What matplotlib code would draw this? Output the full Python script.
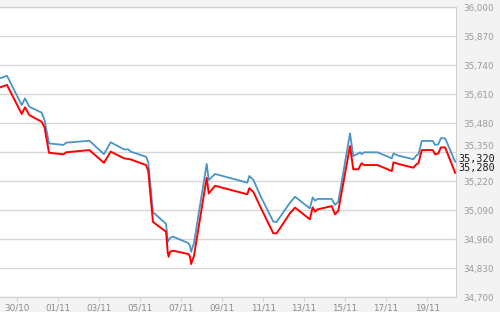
import matplotlib
matplotlib.use("Agg")
import matplotlib.pyplot as plt
import matplotlib.ticker as mticker

# days counted from 30/10 (midnight)
days = [-0.83, -0.49, 0.23, 0.39, 0.60, 1.20, 1.34, 1.56, 2.27, 2.39,
        3.53, 4.24, 4.57, 5.22, 5.43, 5.55, 6.29, 6.40, 6.63, 7.27,
        7.35, 7.40, 7.46, 7.61, 8.36, 8.44, 8.49, 8.63, 9.25, 9.35,
        9.66, 11.23, 11.33, 11.53, 11.85, 12.50, 12.66, 13.32, 13.56, 14.28,
        14.42, 14.54, 14.65, 15.35, 15.51, 15.67, 16.24, 16.40, 16.65, 16.73,
        16.81, 16.93, 17.58, 18.28, 18.36, 18.60, 19.33, 19.50, 19.58, 19.74,
        20.28, 20.39, 20.55, 20.67, 20.88, 21.37]

blue = [35682, 35693, 35562, 35592, 35554, 35528, 35495, 35390, 35383, 35393,
        35402, 35342, 35395, 35363, 35363, 35353, 35330, 35306, 35082, 35029,
        34948, 34957, 34966, 34972, 34943, 34930, 34904, 34943, 35298, 35226,
        35253, 35214, 35244, 35226, 35159, 35039, 35038, 35125, 35151, 35099,
        35148, 35133, 35141, 35141, 35114, 35129, 35435, 35333, 35345, 35350,
        35342, 35350, 35350, 35323, 35345, 35335, 35319, 35338, 35341, 35401,
        35401, 35383, 35386, 35413, 35413, 35308]

red = [35641, 35652, 35522, 35552, 35517, 35487, 35463, 35348, 35341, 35350,
       35360, 35303, 35353, 35323, 35320, 35318, 35293, 35266, 35038, 34994,
       34900, 34882, 34904, 34909, 34894, 34882, 34849, 34885, 35236, 35166,
       35200, 35162, 35189, 35172, 35109, 34987, 34987, 35078, 35102, 35050,
       35103, 35084, 35094, 35109, 35072, 35088, 35378, 35274, 35274, 35289,
       35301, 35293, 35293, 35266, 35305, 35298, 35281, 35298, 35301, 35360,
       35360, 35341, 35345, 35372, 35372, 35258]

tick_days = [0, 2, 4, 6, 8, 10, 12, 14, 16, 18, 20]
tick_labels = ["30/10", "01/11", "03/11", "05/11", "07/11", "09/11",
               "11/11", "13/11", "15/11", "17/11", "19/11"]
y_ticks = [34700, 34830, 34960, 35090, 35220, 35350, 35480, 35610, 35740, 35870, 36000]
last_vals = [35320, 35280]
bumped_tick = 35350  # label pushed up so it clears the last-value labels

fig = plt.figure(figsize=(5, 3.12), dpi=100, facecolor="#f3f3f3")
ax = fig.add_axes([0, 0.047, 0.912, 0.9296])
ax.set_facecolor("white")

ax.plot(days, blue, color="#4a94c6", lw=1.3, zorder=3)
ax.plot(days, red, color="#ff0000", lw=1.4, zorder=3)

ax.set_xlim(-0.83, 21.41)
ax.set_ylim(34700, 36000)
ax.set_yticks(y_ticks)
ax.yaxis.set_major_formatter(mticker.FuncFormatter(
    lambda v, p: "" if round(v) == bumped_tick else f"{v:,.0f}"))
ax.yaxis.tick_right()
ax.tick_params(axis="y", length=0, pad=5.5, labelsize=6.3, labelcolor="#9a9a9a")
ax.set_xticks(tick_days)
ax.set_xticklabels(tick_labels)
ax.tick_params(axis="x", length=3, width=0.6, color="#c8c8c8", pad=1.5,
               labelsize=6.3, labelcolor="#8c8c8c")
ax.grid(axis="y", color="#d6d6d6", lw=1.0)
ax.set_axisbelow(True)

for side in ["top", "right", "bottom"]:
    ax.spines[side].set_color("#cfcfcf")
    ax.spines[side].set_linewidth(0.8)
ax.spines["left"].set_visible(False)

ax.annotate(f"{bumped_tick:,}", xy=(1.0, bumped_tick), xycoords=("axes fraction", "data"),
            xytext=(5.5, 4.5), textcoords="offset points", va="center", ha="left",
            fontsize=6.3, color="#9a9a9a", annotation_clip=False)

for v in last_vals:
    ax.annotate(f"{v:,}", xy=(1.0, v), xycoords=("axes fraction", "data"),
                xytext=(2, 0), textcoords="offset points", va="center", ha="left",
                fontsize=7.3, family="DejaVu Sans Mono", color="#1a1a1a",
                annotation_clip=False)

fig.savefig("out.png", dpi=100, facecolor=fig.get_facecolor())
